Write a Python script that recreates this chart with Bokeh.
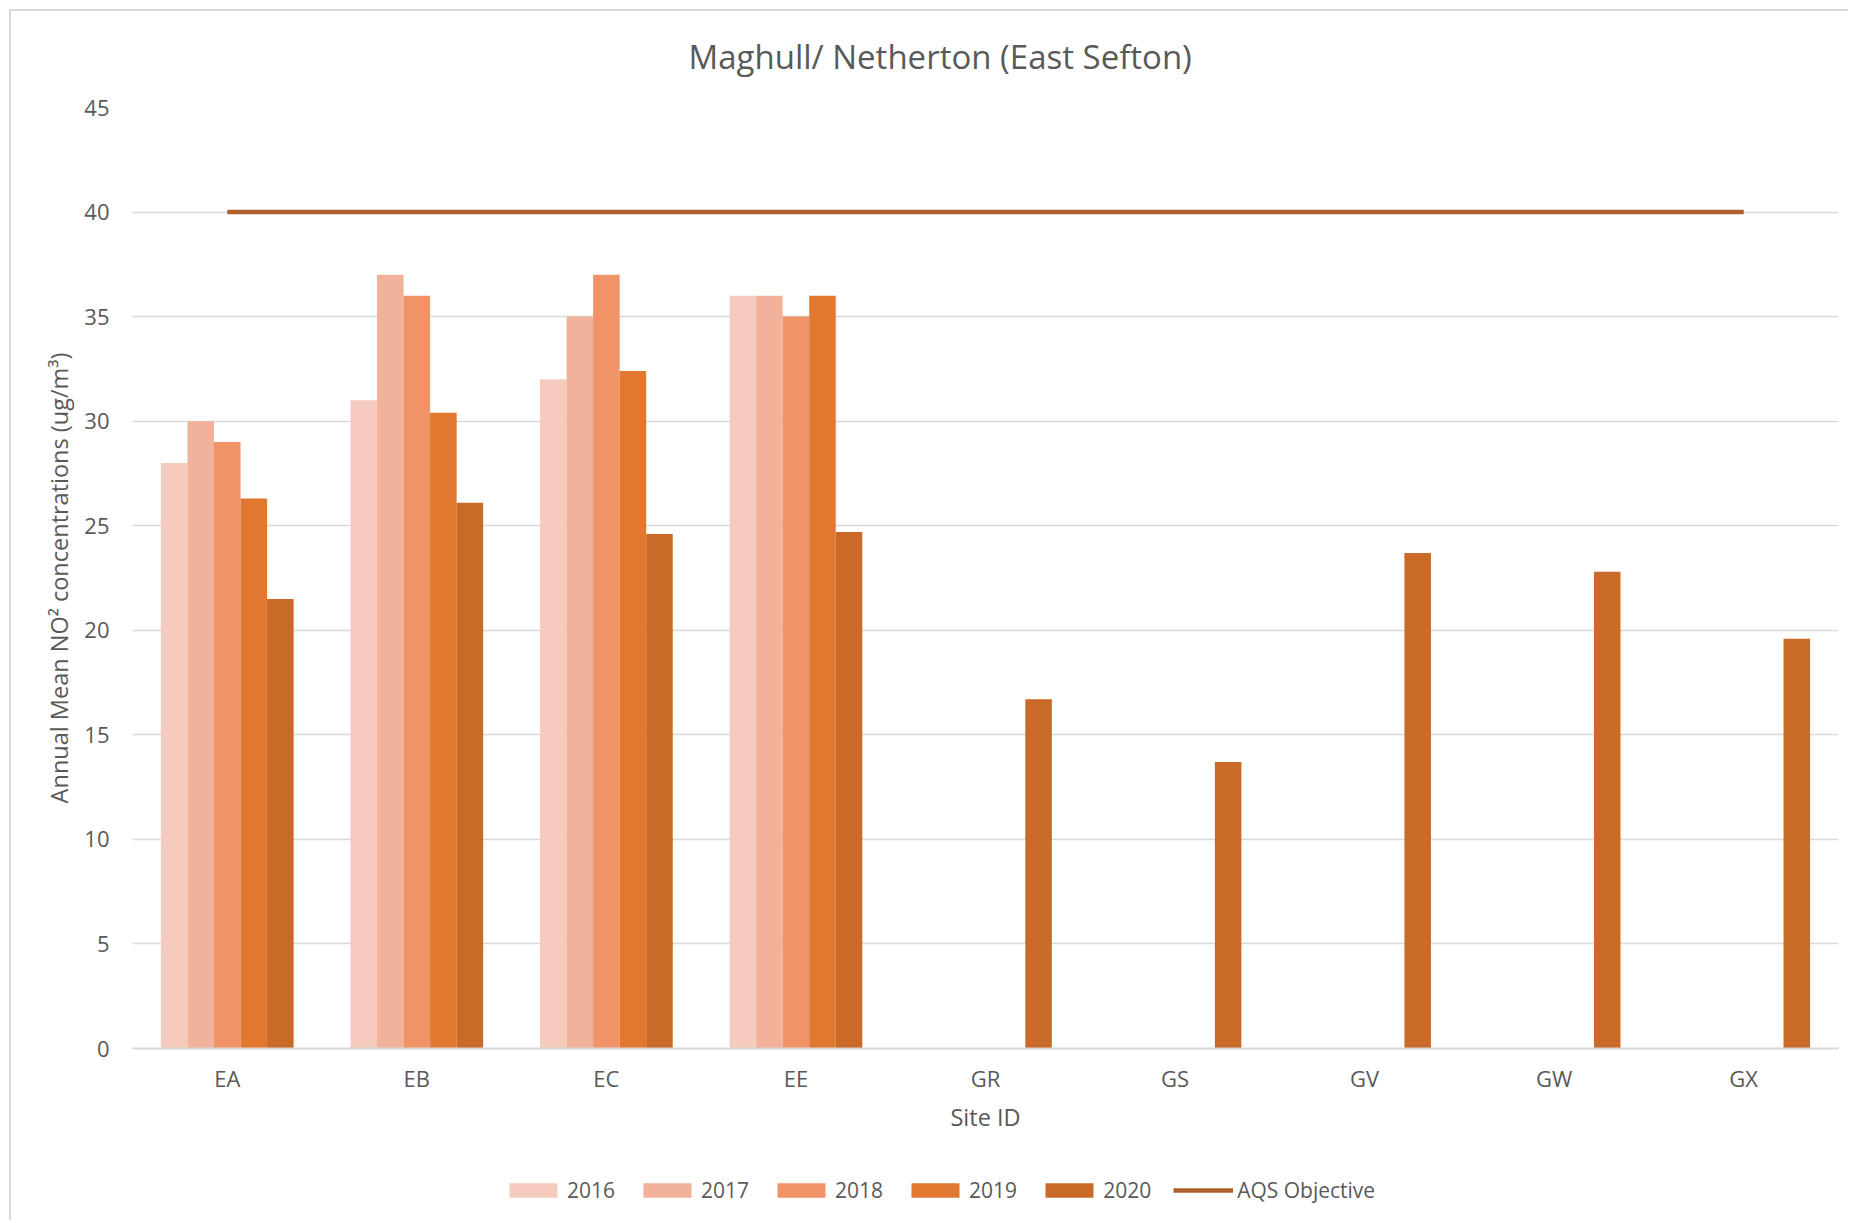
from bokeh.plotting import figure
from bokeh.models import ColumnDataSource, FactorRange, Legend, LegendItem, FixedTicker
from bokeh.layouts import column
from bokeh.transform import dodge
from bokeh.embed import file_html
from bokeh.resources import INLINE

sites = ["EA", "EB", "EC", "EE", "GR", "GS", "GV", "GW", "GX"]
years = ["2016", "2017", "2018", "2019", "2020"]
nan = float("nan")
v2016 = [28, 31, 32, 36, nan, nan, nan, nan, nan]
v2017 = [30, 37, 35, 36, nan, nan, nan, nan, nan]
v2018 = [29, 36, 37, 35, nan, nan, nan, nan, nan]
v2019 = [26.3, 30.4, 32.4, 36, nan, nan, nan, nan, nan]
v2020 = [21.5, 26.1, 24.6, 24.7, 16.7, 13.7, 23.7, 22.8, 19.6]
aqs_objective = [40, 40, 40, 40, 40, 40, 40, 40, 40]
y_ticks = [0, 5, 10, 15, 20, 25, 30, 35, 40, 45]

colors = ["#F5CBBD", "#F2B29A", "#F09468", "#E2772F", "#C96A28"]
aqs_color = "#B0602A"
text_color = "#595959"
grid_color = "#D9D9D9"
FONT = "Open Sans"

src = ColumnDataSource(dict(site=sites, y2016=v2016, y2017=v2017, y2018=v2018,
                            y2019=v2019, y2020=v2020, aqs=aqs_objective))

W, H = 1848, 1140
p = figure(x_range=FactorRange(*sites, range_padding=0), y_range=(0, 45),
           width=W, height=H, output_backend="svg", toolbar_location=None,
           title="Maghull/ Netherton (East Sefton)")
p.min_border_left = 132
p.min_border_right = 10
p.min_border_top = 107
p.min_border_bottom = 92
p.outline_line_color = None
p.background_fill_color = "white"
p.border_fill_color = None
p.styles = {"background": "linear-gradient(#D9D9D9,#D9D9D9) 9px 9px / 2px calc(100% - 9px) no-repeat, "
                          "linear-gradient(#D9D9D9,#D9D9D9) 9px 9px / calc(100% - 9px) 2px no-repeat, #ffffff"}

p.title.text_font = FONT
p.title.text_font_size = "33px"
p.title.text_font_style = "normal"
p.title.text_color = text_color
p.title.align = "left"
p.title.offset = 556
p.title.standoff = 58

offsets = [-0.28, -0.14, 0.0, 0.14, 0.28]
fields = ["y2016", "y2017", "y2018", "y2019", "y2020"]
for f, off, c in zip(fields, offsets, colors):
    p.vbar(x=dodge("site", off, range=p.x_range), top=f, width=0.14, bottom=0,
           source=src, fill_color=c, line_color=None)

p.line(x="site", y="aqs", source=src, line_color=aqs_color, line_width=4.5)

p.yaxis.ticker = FixedTicker(ticks=y_ticks)
p.ygrid.ticker = FixedTicker(ticks=y_ticks)
p.ygrid.grid_line_color = grid_color
p.ygrid.grid_line_width = 1.5
p.xgrid.grid_line_color = None

p.yaxis.axis_line_color = None
p.yaxis.major_tick_line_color = None
p.yaxis.minor_tick_line_color = None
p.yaxis.major_tick_out = 0
p.yaxis.major_label_standoff = 23
p.yaxis.axis_label = "Annual Mean NO² concentrations (ug/m³)"
p.yaxis.axis_label_standoff = 6

p.xaxis.axis_line_color = grid_color
p.xaxis.axis_line_width = 2
p.xaxis.major_tick_line_color = None
p.xaxis.major_tick_out = 0
p.xaxis.major_label_standoff = 14
p.xaxis.axis_label = "Site ID"
p.xaxis.axis_label_standoff = 5

for ax in (p.xaxis[0], p.yaxis[0]):
    ax.major_label_text_font = FONT
    ax.major_label_text_font_size = "22px"
    ax.major_label_text_color = text_color
    ax.axis_label_text_font = FONT
    ax.axis_label_text_font_size = "23.5px"
    ax.axis_label_text_font_style = "normal"
    ax.axis_label_text_color = text_color

# legend strip below the chart (its frame is aligned with the chart's frame);
# the proxy renderers use the same data but lie outside this strip's view
lg = figure(width=W, height=80, output_backend="svg", toolbar_location=None,
            x_range=FactorRange(*sites, range_padding=0), y_range=(100, 200),
            min_border_left=132, min_border_right=10, min_border_top=0, min_border_bottom=0)
lg.axis.visible = False
lg.grid.visible = False
lg.outline_line_color = None
lg.border_fill_color = None
lg.background_fill_color = None
lg.styles = {"background": "linear-gradient(#D9D9D9,#D9D9D9) 9px 0 / 2px 100% no-repeat, #ffffff"}

items = []
for yr, f, off, c in zip(years, fields, offsets, colors):
    r = lg.vbar(x=dodge("site", off, range=lg.x_range), top=f, width=0.14, bottom=0,
                source=src, fill_color=c, line_color=None)
    items.append(LegendItem(label=yr, renderers=[r]))
lr = lg.line(x="site", y="aqs", source=src, line_color=aqs_color, line_width=4.5)
items.append(LegendItem(label="AQS Objective", renderers=[lr]))

legend = Legend(items=items, orientation="horizontal", location=(371, 16),
                glyph_width=60, glyph_height=18, label_standoff=4, spacing=22,
                padding=0, margin=0, border_line_color=None, background_fill_alpha=0,
                label_text_font=FONT, label_text_font_size="21px",
                label_text_color=text_color)
lg.add_layout(legend, "center")

layout = column(p, lg, spacing=0)
open("out.html", "w").write(file_html(layout, INLINE))
